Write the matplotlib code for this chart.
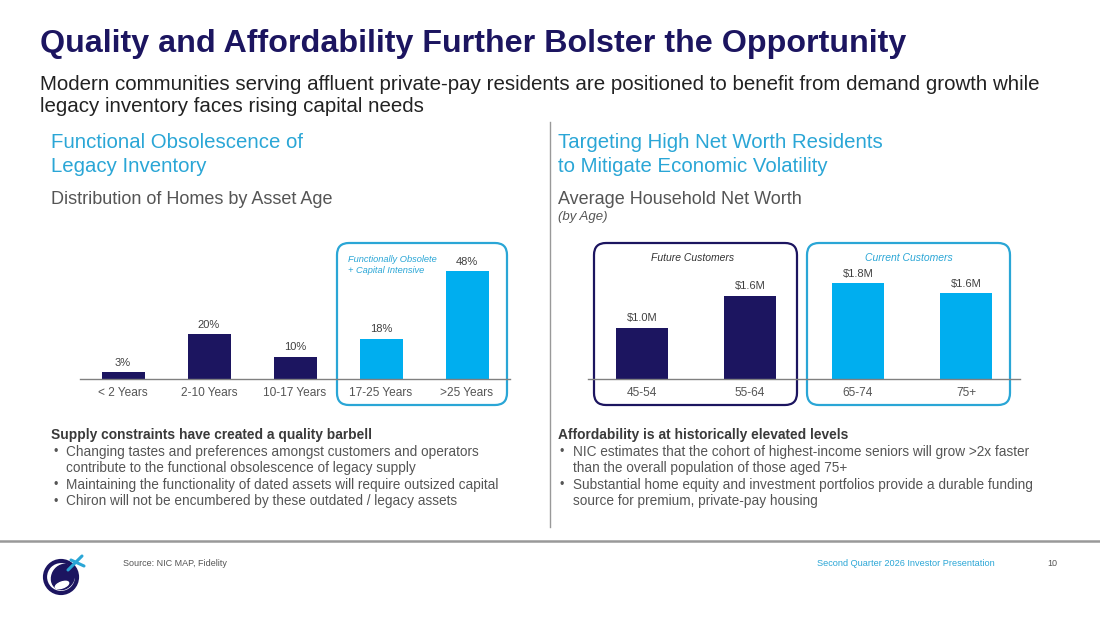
import matplotlib
matplotlib.use('Agg')
import matplotlib.pyplot as plt
from matplotlib.patches import FancyBboxPatch, Circle, Ellipse

plt.rcParams['font.family'] = ['Liberation Sans', 'DejaVu Sans']

# data
age_cats = ['< 2 Years', '2-10 Years', '10-17 Years', '17-25 Years', '>25 Years']
age_share = [3, 20, 10, 18, 48]
age_labels = ['3%', '20%', '10%', '18%', '48%']

nw_cats = ['45-54', '55-64', '65-74', '75+']
nw_values = [0.98, 1.59, 1.82, 1.64]
nw_labels = ['$1.0M', '$1.6M', '$1.8M', '$1.6M']

left_bullets = [
    'Changing tastes and preferences amongst customers and operators\ncontribute to the functional obsolescence of legacy supply',
    'Maintaining the functionality of dated assets will require outsized capital',
    'Chiron will not be encumbered by these outdated / legacy assets',
]
right_bullets = [
    'NIC estimates that the cohort of highest-income seniors will grow >2x faster\nthan the overall population of those aged 75+',
    'Substantial home equity and investment portfolios provide a durable funding\nsource for premium, private-pay housing',
]

NAVY = '#1c1560'
BLUE = '#00aeef'
LBLUE = '#2aa6d6'
GREY = '#555555'
DARK = '#333333'

W, H = 1100, 619
fig = plt.figure(figsize=(11, 6.19), dpi=100)

# full-page layer in pixel coordinates
bg = fig.add_axes([0, 0, 1, 1])
bg.set_xlim(0, W)
bg.set_ylim(H, 0)
bg.axis('off')


def px_axes(x0, y0, x1, y1):
    return fig.add_axes([x0 / W, 1 - y1 / H, (x1 - x0) / W, (y1 - y0) / H])


def lines(x, y0, step, texts, **kw):
    for i, t in enumerate(texts):
        bg.text(x, y0 + i * step, t, va='center', **kw)


# headings
bg.text(40, 44, 'Quality and Affordability Further Bolster the Opportunity',
        fontsize=23.2, fontweight='bold', color=NAVY, va='center')
lines(40, 85, 21.5, ['Modern communities serving affluent private-pay residents are positioned to benefit from demand growth while',
                     'legacy inventory faces rising capital needs'],
      fontsize=14.8, color='#222222')

lines(51, 143, 24, ['Functional Obsolescence of', 'Legacy Inventory'], fontsize=14.7, color=LBLUE)
bg.text(51, 200, 'Distribution of Homes by Asset Age', fontsize=13, color=GREY, va='center')

lines(558, 143, 24, ['Targeting High Net Worth Residents', 'to Mitigate Economic Volatility'],
      fontsize=14.7, color=LBLUE)
bg.text(558, 200, 'Average Household Net Worth', fontsize=13, color=GREY, va='center')
bg.text(558, 217, '(by Age)', fontsize=9.5, color=GREY, va='center', style='italic')

# divider
bg.plot([550, 550], [122, 527], color='#999999', lw=1)


def bar_panel(ax, cats, vals, labels, colors, width, ymax):
    x = range(len(cats))
    bars = ax.bar(x, vals, width=width, color=colors, zorder=2)
    for b, lab in zip(bars, labels):
        ax.annotate(lab, (b.get_x() + b.get_width() / 2, b.get_height()),
                    xytext=(0, 3), textcoords='offset points', ha='center', va='bottom',
                    fontsize=8, color='#404040')
    ax.set_xlim(-0.5, len(cats) - 0.5)
    ax.set_ylim(0, ymax)
    ax.set_xticks(list(x))
    ax.set_xticklabels(cats, fontsize=8.6, color=GREY)
    ax.tick_params(axis='x', length=0, pad=6)
    ax.set_yticks([])
    for s in ['top', 'left', 'right']:
        ax.spines[s].set_visible(False)
    ax.spines['bottom'].set_color('#808080')
    ax.spines['bottom'].set_linewidth(1)
    ax.patch.set_alpha(0)


axl = px_axes(80, 230, 510, 379)
bar_panel(axl, age_cats, age_share, age_labels,
          [NAVY, NAVY, NAVY, BLUE, BLUE], 0.5, 149 / 2.25)

axr = px_axes(588, 230, 1020, 379)
bar_panel(axr, nw_cats, nw_values, nw_labels,
          [NAVY, NAVY, BLUE, BLUE], 0.49, 149 / 52.5)

# rounded callout boxes
def rbox(x0, y0, x1, y1, color):
    bg.add_patch(FancyBboxPatch((x0, y0), x1 - x0, y1 - y0,
                                boxstyle='round,pad=0,rounding_size=12',
                                fill=False, ec=color, lw=1.6, zorder=5))


rbox(337, 243, 507, 405, LBLUE)
rbox(594, 243, 797, 405, NAVY)
rbox(807, 243, 1010, 405, LBLUE)

bg.text(348, 265, 'Functionally Obsolete\n+ Capital Intensive', fontsize=6.7, style='italic',
        color=LBLUE, va='center', linespacing=1.2)
bg.text(693, 258, 'Future Customers', fontsize=7.5, style='italic', color=DARK,
        ha='center', va='center')
bg.text(909, 258, 'Current Customers', fontsize=7.5, style='italic', color=LBLUE,
        ha='center', va='center')


def bullets(x, y, header, items):
    bg.text(x, y, header, fontsize=9.9, fontweight='bold', color='#3a3a3a', va='center')
    yy = y + 17
    for it in items:
        n = it.count('\n') + 1
        bg.text(x + 2, yy, '\u2022', fontsize=9, color=GREY, va='center')
        bg.text(x + 15, yy + (n - 1) * 8.2, it, fontsize=9.8, color=GREY, va='center',
                linespacing=1.22)
        yy += 16.5 * n


bullets(51, 435, 'Supply constraints have created a quality barbell', left_bullets)
bullets(558, 435, 'Affordability is at historically elevated levels', right_bullets)

# footer
bg.plot([0, W], [541, 541], color='#999999', lw=1.8)
bg.text(123, 563, 'Source: NIC MAP, Fidelity', fontsize=6.5, color='#555555', va='center')
bg.text(817, 563, 'Second Quarter 2026 Investor Presentation', fontsize=6.6, color=LBLUE,
        va='center')
bg.text(1047, 563, '10', fontsize=6.5, color='#555555', va='center')

# simple logo mark
bg.add_patch(Circle((61, 577), 16, fill=False, ec=NAVY, lw=3, zorder=3))
bg.add_patch(Ellipse((63, 577), 22, 26, angle=30, color=NAVY, zorder=4))
bg.add_patch(Ellipse((62, 585), 14, 6, angle=-20, color='white', zorder=5))
bg.plot([68, 82], [570, 556], color=LBLUE, lw=2.2, zorder=6, solid_capstyle='round')
bg.plot([71, 84], [560, 566], color=LBLUE, lw=2.2, zorder=6, solid_capstyle='round')

fig.savefig('out.png', dpi=100)
